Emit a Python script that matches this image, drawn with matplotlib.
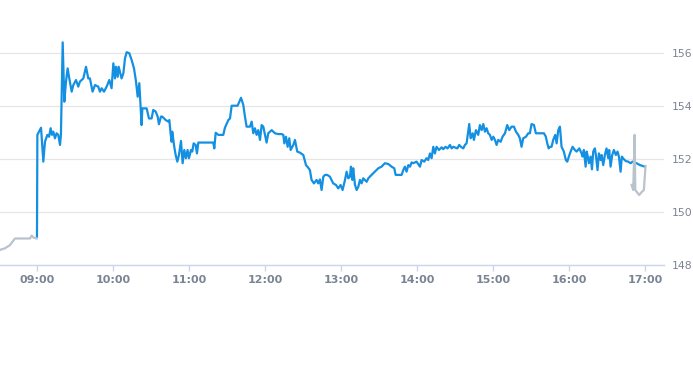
import pandas as pd
import matplotlib
matplotlib.use("Agg")
import matplotlib.pyplot as plt
import matplotlib.dates as mdates

session_open = pd.Timestamp("2024-01-02 09:00")

# minutes relative to 09:00, price
pre_minutes = [-29.2, -25.3, -21.3, -18.7, -17.4, -5.5, -4.2, -2.9, -0.2]
pre_prices = [148.57, 148.63, 148.75, 148.92, 149.00, 149.00, 149.11, 149.04, 149.00]

reg_minutes = [
    0.0, 0.3, 3.2, 5.0, 6.3, 8.2, 9.5, 10.8, 11.8, 12.9, 14.2, 15.5, 16.8, 18.2, 18.9,
    20.3, 21.6, 22.9, 24.2, 25.5, 27.4, 28.7, 30.8, 32.6, 33.9, 36.6, 38.7, 40.5, 41.8,
    43.9, 45.8, 48.4, 49.7, 51.1, 52.9, 55.0, 57.1, 58.9, 60.3, 61.6, 62.4, 63.7, 64.5,
    65.5, 66.8, 68.2, 69.5, 70.8, 72.9, 74.7, 76.6, 78.2, 79.5, 80.8, 82.6, 83.2, 86.6,
    88.4, 90.5, 91.8, 93.7, 95.3, 96.3, 97.9, 98.9, 101.6, 103.7, 104.5, 105.5, 106.3,
    106.8, 108.4, 109.5, 110.8, 112.1, 113.7, 115.0, 116.3, 117.6, 118.9, 120.0, 121.6,
    122.6, 123.7, 125.3, 126.3, 127.4, 139.2, 140.0, 141.1, 143.2, 147.1, 148.4, 151.1,
    152.4, 153.7, 158.4, 161.1, 162.9, 164.2, 165.5, 168.2, 169.5, 170.8, 172.1, 173.4,
    174.7, 176.1, 177.4, 178.7, 180.0, 181.3, 182.6, 185.3, 187.9, 190.5, 193.2, 194.5,
    195.3, 196.6, 197.9, 199.2, 200.3, 202.4, 203.7, 205.5, 207.6, 210.3, 212.4, 214.2,
    215.5, 216.8, 218.7, 220.8, 222.1, 223.4, 224.7, 226.1, 227.4, 229.2, 231.3, 233.9,
    236.1, 237.9, 239.7, 241.3, 243.2, 244.5, 245.8, 247.1, 247.9, 249.0, 249.7, 251.1,
    252.4, 253.7, 255.0, 256.3, 257.6, 258.9, 260.3, 261.6, 264.2, 266.8, 269.5, 272.1,
    274.7, 277.4, 280.0, 282.1, 283.2, 287.9, 289.2, 290.5, 291.8, 293.2, 294.5, 295.8,
    297.1, 299.7, 302.4, 303.7, 305.8, 307.6, 308.9, 310.3, 311.6, 312.9, 314.2, 315.5,
    317.4, 319.5, 320.8, 322.6, 324.2, 326.1, 327.4, 328.7, 331.9, 333.4, 334.7, 336.6,
    337.9, 339.2, 341.3, 342.4, 344.0, 345.0, 346.6, 348.4, 349.7, 351.1, 352.4, 353.7,
    355.0, 356.3, 357.6, 359.0, 360.3, 361.6, 362.9, 364.2, 366.1, 367.6, 369.5, 371.3,
    372.9, 374.7, 376.6, 378.2, 380.0, 381.3, 382.6, 383.9, 386.1, 387.9, 389.2, 390.5,
    392.4, 393.9, 400.3, 401.8, 402.9, 404.0, 405.0, 406.3, 407.6, 409.2, 410.3, 411.6,
    412.9, 414.2, 416.0, 417.6, 418.7, 420.8, 422.9, 424.7, 426.1, 428.2, 430.0, 430.8,
    431.8, 433.2, 434.0, 434.7, 435.8, 437.1, 438.2, 439.2, 440.5, 441.3, 442.6, 443.7,
    445.0, 445.8, 447.1, 448.4, 449.7, 451.1, 451.8, 452.9, 454.2, 455.5, 457.1, 458.4,
    459.5, 460.8, 461.8, 463.4, 465.0, 466.8, 468.7, 470.3, 473.4, 476.1, 480.0,
]
reg_prices = [
    149.07, 152.91, 153.18, 151.90, 152.65, 152.91, 152.84, 153.16, 152.91, 153.03, 152.78,
    152.97, 152.91, 152.53, 152.91, 156.40, 154.16, 154.92, 155.42, 155.04, 154.54, 154.79,
    154.98, 154.73, 154.92, 155.04, 155.48, 155.04, 155.04, 154.54, 154.79, 154.73, 154.54,
    154.67, 154.54, 154.73, 154.98, 154.67, 155.61, 155.04, 155.48, 155.10, 155.48, 155.29,
    155.04, 155.23, 155.80, 156.03, 155.99, 155.74, 155.42, 154.92, 154.35, 154.86, 153.28,
    153.91, 153.91, 153.53, 153.53, 153.85, 153.79, 153.60, 153.31, 153.60, 153.60, 153.47,
    153.41, 153.47, 152.97, 152.65, 153.03, 152.46, 152.15, 151.90, 152.15, 152.68, 151.84,
    152.34, 152.03, 152.34, 152.03, 152.34, 152.28, 152.59, 152.53, 152.21, 152.62, 152.62,
    152.40, 152.99, 152.91, 152.91, 153.18, 153.47, 153.53, 154.01, 154.01, 154.31, 154.04,
    153.60, 153.22, 153.22, 153.41, 152.97, 153.16, 152.91, 153.09, 152.72, 153.28, 153.22,
    152.91, 152.62, 152.97, 153.09, 152.97, 152.94, 152.94, 152.91, 152.59, 152.84, 152.46,
    152.78, 152.34, 152.53, 152.72, 152.28, 152.24, 152.15, 151.77, 151.67, 151.58, 151.21,
    151.08, 151.21, 151.08, 151.23, 150.83, 151.33, 151.40, 151.40, 151.33, 151.08, 151.02,
    150.89, 151.02, 150.83, 151.21, 151.52, 151.27, 151.33, 151.71, 151.21, 151.65, 151.02,
    150.83, 150.95, 151.21, 151.08, 151.27, 151.21, 151.14, 151.27, 151.40, 151.52, 151.65,
    151.71, 151.84, 151.81, 151.71, 151.65, 151.40, 151.40, 151.58, 151.71, 151.52, 151.77,
    151.71, 151.87, 151.84, 151.90, 151.71, 151.96, 151.90, 152.03, 151.96, 152.21, 152.03,
    152.46, 152.21, 152.46, 152.34, 152.44, 152.37, 152.46, 152.40, 152.53, 152.40, 152.46,
    152.40, 152.53, 152.46, 152.40, 152.53, 152.59, 153.32, 152.78, 152.97, 152.72, 153.09,
    152.91, 153.28, 153.09, 153.32, 153.03, 153.16, 152.97, 152.91, 152.72, 152.84, 152.72,
    152.53, 152.72, 152.65, 152.84, 152.97, 153.28, 153.09, 153.22, 153.22, 153.03, 152.91,
    152.78, 152.46, 152.78, 152.84, 152.97, 152.97, 153.32, 153.28, 152.97, 152.97, 152.84,
    152.59, 152.40, 152.46, 152.46, 152.72, 152.91, 152.59, 153.09, 153.22, 152.46, 152.28,
    151.96, 151.90, 152.21, 152.46, 152.34, 152.28, 152.40, 152.21, 152.09, 152.34, 151.71,
    152.28, 152.15, 151.84, 152.09, 151.61, 152.28, 152.40, 152.15, 151.58, 152.21, 151.96,
    152.15, 151.77, 152.15, 152.40, 152.03, 152.34, 151.71, 152.15, 152.34, 152.15, 152.28,
    152.09, 151.52, 152.09, 151.99, 151.92, 151.90, 151.84, 151.90, 151.84, 151.77, 151.71,
]

post_minutes = [469.5, 470.8, 471.9, 472.4, 475.5, 477.4, 479.2, 480.5]
post_prices = [151.02, 150.83, 152.91, 150.83, 150.64, 150.75, 150.83, 151.74]

price_ticks = [148, 150, 152, 154, 156]

blue = "#1490e3"
gray_line = "#b9c3cd"
label_color = "#7b8493"


def to_times(minutes):
    return session_open + pd.to_timedelta(minutes, unit="min")


fig = plt.figure(figsize=(6.93, 3.65), dpi=100)
ax = fig.add_axes([0, 0.274, 0.958, 0.644])

ax.plot(to_times(reg_minutes), reg_prices, color=blue, lw=1.6, zorder=3,
        solid_joinstyle="round")
ax.plot(to_times(pre_minutes), pre_prices, color=gray_line, lw=1.6, zorder=4)
ax.plot(to_times(post_minutes), post_prices, color=gray_line, lw=1.6, zorder=4)

ax.set_xlim(to_times([-29.2])[0], to_times([495.0])[0])
ax.set_ylim(148, 156.87)

for side in ["top", "left", "right"]:
    ax.spines[side].set_visible(False)
ax.spines["bottom"].set_color("#ccd6eb")
ax.spines["bottom"].set_linewidth(1)

ax.set_yticks(price_ticks)
ax.yaxis.tick_right()
ax.grid(axis="y", color="#e6e6e6", lw=0.9)
ax.set_axisbelow(True)
ax.tick_params(axis="y", length=0, pad=6, labelsize=7.8, labelcolor=label_color)

ax.xaxis.set_major_locator(mdates.HourLocator(byhour=range(9, 18)))
ax.xaxis.set_major_formatter(mdates.DateFormatter("%H:%M"))
ax.tick_params(axis="x", length=4, width=1, color="#ccd6eb", pad=3,
               labelsize=8, labelcolor=label_color)
for lbl in ax.get_xticklabels():
    lbl.set_fontweight("bold")

fig.savefig("out.png", dpi=100)
